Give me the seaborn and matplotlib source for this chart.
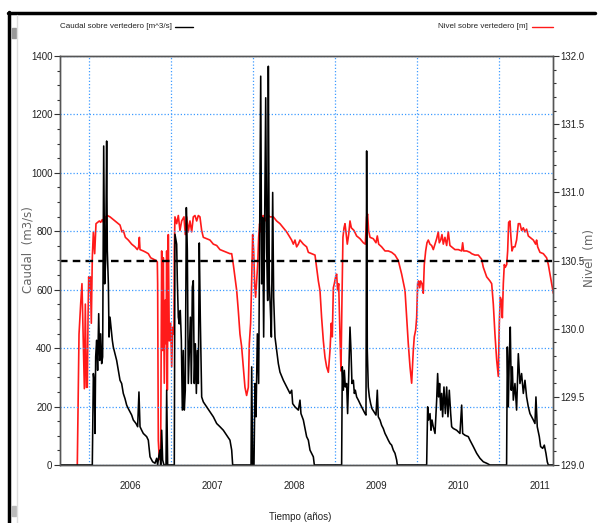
import matplotlib
matplotlib.use('Agg')
import matplotlib.pyplot as plt
import seaborn as sns
from matplotlib.ticker import MultipleLocator, FormatStrFormatter
from matplotlib.lines import Line2D
from matplotlib.patches import Rectangle

# --- datos (tiempo en años decimales) ---
caudal_t = [2005.646, 2006.040, 2006.053, 2006.065, 2006.073, 2006.081, 2006.093, 2006.105, 2006.118, 2006.130,
            2006.142, 2006.154, 2006.166, 2006.179, 2006.191, 2006.203, 2006.215, 2006.223, 2006.236, 2006.244,
            2006.256, 2006.268, 2006.284, 2006.296, 2006.317, 2006.337, 2006.357, 2006.378, 2006.398, 2006.418,
            2006.439, 2006.459, 2006.479, 2006.500, 2006.520, 2006.540, 2006.573, 2006.593, 2006.609, 2006.622,
            2006.642, 2006.662, 2006.703, 2006.723, 2006.744, 2006.776, 2006.805, 2006.825, 2006.837, 2006.853,
            2006.866, 2006.874, 2006.886, 2006.898, 2006.914, 2006.939, 2006.947, 2006.959, 2007.040, 2007.048,
            2007.069, 2007.077, 2007.089, 2007.101, 2007.113, 2007.126, 2007.138, 2007.150, 2007.162, 2007.174,
            2007.187, 2007.199, 2007.211, 2007.223, 2007.236, 2007.248, 2007.260, 2007.272, 2007.284, 2007.297,
            2007.309, 2007.321, 2007.333, 2007.345, 2007.357, 2007.374, 2007.394, 2007.435, 2007.475, 2007.516,
            2007.557, 2007.597, 2007.638, 2007.679, 2007.719, 2007.740, 2007.752, 2007.976, 2007.984, 2007.996,
            2008.012, 2008.024, 2008.037, 2008.053, 2008.069, 2008.077, 2008.094, 2008.106, 2008.118, 2008.130,
            2008.142, 2008.155, 2008.167, 2008.179, 2008.187, 2008.199, 2008.211, 2008.224, 2008.240, 2008.252,
            2008.268, 2008.289, 2008.309, 2008.329, 2008.370, 2008.411, 2008.451, 2008.472, 2008.484, 2008.512,
            2008.553, 2008.573, 2008.585, 2008.614, 2008.634, 2008.654, 2008.675, 2008.695, 2008.715, 2008.736,
            2008.748, 2009.081, 2009.089, 2009.102, 2009.114, 2009.126, 2009.142, 2009.154, 2009.167, 2009.183,
            2009.195, 2009.207, 2009.224, 2009.236, 2009.248, 2009.264, 2009.285, 2009.305, 2009.325, 2009.346,
            2009.366, 2009.378, 2009.386, 2009.394, 2009.406, 2009.419, 2009.435, 2009.451, 2009.476, 2009.500,
            2009.516, 2009.528, 2009.549, 2009.569, 2009.589, 2009.610, 2009.630, 2009.650, 2009.671, 2009.691,
            2009.711, 2009.732, 2009.752, 2009.760, 2010.118, 2010.130, 2010.142, 2010.159, 2010.171, 2010.183,
            2010.199, 2010.220, 2010.240, 2010.252, 2010.264, 2010.276, 2010.289, 2010.301, 2010.313, 2010.329,
            2010.346, 2010.362, 2010.378, 2010.394, 2010.411, 2010.423, 2010.443, 2010.484, 2010.524, 2010.545,
            2010.557, 2010.585, 2010.626, 2010.646, 2010.687, 2010.728, 2010.768, 2010.809, 2010.850, 2010.890,
            2011.093, 2011.102, 2011.114, 2011.126, 2011.138, 2011.150, 2011.163, 2011.175, 2011.195, 2011.215,
            2011.236, 2011.256, 2011.276, 2011.297, 2011.317, 2011.337, 2011.358, 2011.378, 2011.419, 2011.439,
            2011.451, 2011.467, 2011.492, 2011.508, 2011.533, 2011.553, 2011.573, 2011.589, 2011.602, 2011.663]
caudal_q = [0, 0, 313, 279, 108, 370, 427, 324, 518, 358,
            449, 347, 370, 1092, 620, 700, 1109, 734, 620, 438,
            506, 472, 427, 404, 381, 358, 324, 290, 279, 245,
            227, 205, 193, 182, 171, 154, 142, 131, 250, 131,
            119, 108, 97, 85, 28, 11, 6, 23, 0, 34,
            51, 0, 119, 17, 0, 0, 256, 0, 0, 790,
            756, 631, 506, 483, 529, 427, 188, 392, 188, 256,
            881, 734, 279, 392, 506, 279, 609, 631, 279, 415,
            245, 392, 279, 760, 506, 233, 216, 199, 182, 165,
            142, 131, 119, 102, 85, 51, 0, 0, 336, 0,
            0, 279, 165, 449, 279, 620, 1331, 620, 847, 438,
            847, 1257, 734, 563, 1365, 620, 540, 438, 933, 574,
            438, 392, 347, 318, 290, 267, 245, 256, 210, 199,
            188, 222, 176, 154, 125, 97, 85, 51, 40, 28,
            0, 0, 336, 256, 324, 267, 279, 176, 301, 472,
            392, 279, 290, 245, 256, 233, 222, 210, 199, 188,
            176, 171, 1075, 392, 267, 233, 210, 193, 182, 171,
            256, 165, 154, 136, 125, 108, 97, 85, 74, 68,
            51, 40, 17, 0, 0, 199, 154, 176, 119, 154,
            131, 108, 222, 313, 233, 279, 188, 245, 165, 267,
            176, 267, 165, 256, 176, 131, 125, 119, 108, 205,
            108, 102, 97, 85, 63, 40, 23, 11, 6, 0,
            0, 404, 199, 370, 472, 256, 336, 222, 279, 188,
            381, 279, 313, 245, 290, 233, 199, 176, 154, 142,
            233, 131, 97, 63, 57, 68, 40, 11, 0, 0]

nivel_t = [2005.857, 2005.878, 2005.898, 2005.914, 2005.931, 2005.943, 2005.955, 2005.967, 2005.979, 2005.988,
           2005.996, 2006.008, 2006.016, 2006.028, 2006.040, 2006.053, 2006.069, 2006.085, 2006.105, 2006.126,
           2006.142, 2006.162, 2006.183, 2006.203, 2006.223, 2006.256, 2006.296, 2006.337, 2006.378, 2006.402,
           2006.418, 2006.443, 2006.479, 2006.520, 2006.561, 2006.589, 2006.605, 2006.614, 2006.622, 2006.662,
           2006.695, 2006.723, 2006.752, 2006.784, 2006.817, 2006.833, 2006.837, 2006.845, 2006.857, 2006.874,
           2006.886, 2006.898, 2006.906, 2006.918, 2006.931, 2006.939, 2006.947, 2006.955, 2006.967, 2006.979,
           2006.996, 2007.008, 2007.020, 2007.036, 2007.040, 2007.048, 2007.069, 2007.089, 2007.109, 2007.130,
           2007.158, 2007.174, 2007.191, 2007.211, 2007.231, 2007.252, 2007.272, 2007.292, 2007.313, 2007.333,
           2007.353, 2007.374, 2007.394, 2007.435, 2007.475, 2007.516, 2007.557, 2007.597, 2007.638, 2007.679,
           2007.719, 2007.740, 2007.760, 2007.780, 2007.801, 2007.821, 2007.841, 2007.861, 2007.882, 2007.902,
           2007.922, 2007.943, 2007.955, 2007.971, 2007.983, 2007.996, 2008.008, 2008.020, 2008.032, 2008.044,
           2008.057, 2008.069, 2008.081, 2008.093, 2008.105, 2008.126, 2008.146, 2008.166, 2008.186, 2008.207,
           2008.248, 2008.288, 2008.329, 2008.370, 2008.410, 2008.451, 2008.471, 2008.492, 2008.512, 2008.532,
           2008.553, 2008.573, 2008.614, 2008.654, 2008.675, 2008.715, 2008.756, 2008.776, 2008.797, 2008.817,
           2008.837, 2008.858, 2008.878, 2008.898, 2008.919, 2008.939, 2008.955, 2008.967, 2008.980, 2008.992,
           2009.008, 2009.020, 2009.032, 2009.045, 2009.061, 2009.073, 2009.085, 2009.097, 2009.110, 2009.122,
           2009.134, 2009.150, 2009.167, 2009.183, 2009.199, 2009.215, 2009.232, 2009.264, 2009.305, 2009.346,
           2009.370, 2009.386, 2009.398, 2009.410, 2009.427, 2009.467, 2009.500, 2009.516, 2009.533, 2009.569,
           2009.610, 2009.650, 2009.691, 2009.732, 2009.772, 2009.813, 2009.854, 2009.874, 2009.894, 2009.915,
           2009.935, 2009.955, 2009.967, 2009.984, 2009.996, 2010.008, 2010.020, 2010.033, 2010.045, 2010.061,
           2010.077, 2010.089, 2010.106, 2010.122, 2010.138, 2010.158, 2010.179, 2010.199, 2010.220, 2010.240,
           2010.260, 2010.272, 2010.289, 2010.305, 2010.321, 2010.341, 2010.362, 2010.382, 2010.402, 2010.423,
           2010.463, 2010.504, 2010.545, 2010.557, 2010.569, 2010.606, 2010.646, 2010.667, 2010.707, 2010.748,
           2010.788, 2010.809, 2010.850, 2010.890, 2010.911, 2010.931, 2010.951, 2010.972, 2010.992, 2011.004,
           2011.016, 2011.028, 2011.041, 2011.053, 2011.065, 2011.077, 2011.094, 2011.106, 2011.118, 2011.134,
           2011.146, 2011.159, 2011.175, 2011.195, 2011.215, 2011.236, 2011.256, 2011.276, 2011.297, 2011.317,
           2011.337, 2011.358, 2011.378, 2011.419, 2011.447, 2011.459, 2011.472, 2011.500, 2011.541, 2011.581,
           2011.602, 2011.622, 2011.642, 2011.663]
nivel_h = [129.00, 129.96, 130.18, 130.33, 129.89, 129.56, 130.18, 129.57, 129.57, 130.08,
           130.38, 130.28, 130.38, 130.04, 130.52, 130.71, 130.55, 130.77, 130.78, 130.79,
           130.78, 130.80, 130.77, 130.82, 130.83, 130.82, 130.80, 130.78, 130.76, 130.71,
           130.72, 130.67, 130.65, 130.62, 130.60, 130.58, 130.60, 130.67, 130.58, 130.57,
           130.56, 130.55, 130.52, 130.51, 130.50, 130.49, 130.33, 129.18, 129.04, 129.11,
           130.57, 129.84, 130.52, 129.60, 130.21, 129.89, 130.57, 129.55, 130.69, 129.91,
           130.04, 129.72, 130.01, 129.96, 130.57, 130.82, 130.77, 130.83, 130.72, 130.79,
           130.82, 130.69, 130.82, 130.71, 130.79, 130.71, 130.82, 130.83, 130.79, 130.83,
           130.82, 130.72, 130.67, 130.66, 130.65, 130.62, 130.61, 130.58, 130.57, 130.56,
           130.55, 130.55, 130.47, 130.38, 130.28, 130.13, 129.96, 129.87, 129.72, 129.57,
           129.51, 129.57, 129.89, 130.04, 130.33, 130.69, 130.57, 130.33, 130.23, 130.35,
           130.47, 130.67, 130.77, 130.71, 130.82, 130.83, 130.79, 130.82, 130.83, 130.82,
           130.82, 130.79, 130.77, 130.74, 130.71, 130.67, 130.65, 130.62, 130.65, 130.60,
           130.62, 130.65, 130.62, 130.60, 130.56, 130.55, 130.54, 130.45, 130.35, 130.28,
           130.08, 129.91, 129.79, 129.72, 129.68, 129.84, 130.04, 129.94, 130.30, 130.33,
           130.38, 130.40, 130.28, 130.33, 129.94, 129.69, 130.21, 130.67, 130.74, 130.77,
           130.71, 130.62, 130.69, 130.79, 130.74, 130.73, 130.72, 130.68, 130.66, 130.63,
           130.62, 130.82, 130.84, 130.72, 130.67, 130.66, 130.63, 130.68, 130.62, 130.60,
           130.57, 130.57, 130.56, 130.54, 130.50, 130.40, 130.28, 130.08, 129.89, 129.72,
           129.60, 129.84, 129.94, 129.99, 130.08, 130.33, 130.35, 130.30, 130.35, 130.33,
           130.26, 130.47, 130.57, 130.63, 130.65, 130.62, 130.61, 130.58, 130.62, 130.66,
           130.71, 130.63, 130.65, 130.69, 130.62, 130.67, 130.61, 130.71, 130.61, 130.60,
           130.58, 130.58, 130.57, 130.63, 130.57, 130.57, 130.56, 130.55, 130.54, 130.54,
           130.51, 130.45, 130.38, 130.35, 130.33, 130.18, 129.96, 129.77, 129.65, 130.04,
           130.23, 130.21, 130.08, 130.33, 130.47, 130.45, 130.47, 130.57, 130.78, 130.79,
           130.67, 130.57, 130.60, 130.60, 130.65, 130.77, 130.77, 130.72, 130.74, 130.71,
           130.73, 130.68, 130.67, 130.65, 130.62, 130.65, 130.60, 130.56, 130.55, 130.52,
           130.47, 130.40, 130.33, 130.26]

nivel_umbral = 130.5
anios = [2006, 2007, 2008, 2009, 2010, 2011]
anio_etiquetas = ['2006', '2007', '2008', '2009', '2010', '2011']

# --- estilo ---
sns.set_style('white')
plt.rcParams['font.family'] = ['Liberation Sans', 'DejaVu Sans']
W, H = 601, 523

fig = plt.figure(figsize=(W / 100, H / 100), dpi=100)
ax = fig.add_axes([60 / W, 1 - 465 / H, 493 / W, 409 / H])
ax2 = ax.twinx()

# nivel (eje derecho)
sns.lineplot(x=nivel_t, y=nivel_h, ax=ax2, color='#ff1a1a', lw=1.2,
             estimator=None, sort=False, legend=False)
ax2.axhline(nivel_umbral, color='black', lw=1.7, ls=(0, (3.2, 2.2)))

# caudal (eje izquierdo, dibujado encima)
sns.lineplot(x=caudal_t, y=caudal_q, ax=ax, color='black', lw=1.15,
             estimator=None, sort=False, legend=False)
ax.set_zorder(ax2.get_zorder() + 1)
ax.patch.set_visible(False)

# ejes
ax.set_xlim(2005.646, 2011.659)
ax.set_ylim(0, 1400)
ax2.set_ylim(129.0, 132.0)

ax.set_yticks(range(0, 1401, 200))
ax.yaxis.set_minor_locator(MultipleLocator(50))
ax2.set_yticks([129.0, 129.5, 130.0, 130.5, 131.0, 131.5, 132.0])
ax2.yaxis.set_major_formatter(FormatStrFormatter('%.1f'))
ax2.yaxis.set_minor_locator(MultipleLocator(0.1))

ax.set_xticks(anios)
ax.set_xticklabels([])
ax.xaxis.set_minor_locator(MultipleLocator(1 / 12))

for a in (ax, ax2):
    a.tick_params(axis='both', which='major', direction='out', length=4, width=0.8,
                  color='#333333', labelsize=7, labelcolor='#222222', pad=1.5)
    a.tick_params(axis='both', which='minor', direction='out', length=2, width=0.8, color='#333333')
    for s in a.spines.values():
        s.set_color('#555555')
        s.set_linewidth(1.0)
ax.tick_params(axis='x', which='major', length=9)
ax.tick_params(axis='y', which='both', left=True, right=False)
ax2.tick_params(axis='y', which='both', right=True, left=False)

for a, lab in zip(anios, anio_etiquetas):
    ax.text(a + 0.5, -0.052, lab, transform=ax.get_xaxis_transform(),
            ha='center', va='center', fontsize=7, color='#222222')

# rejilla azul punteada
ax.grid(True, which='major', color='#3d9bff', lw=0.9, ls=(0, (1, 1.6)))

# textos
fig.text(28 / W, 1 - 250 / H, 'Caudal  (m3/s)', rotation=90, ha='center', va='center',
         fontsize=8.5, color='#666666', family='DejaVu Sans')
fig.text(589 / W, 1 - 258 / H, 'Nivel  (m)', rotation=90, ha='center', va='center',
         fontsize=8.5, color='#666666', family='DejaVu Sans')
fig.text(300 / W, 1 - 517 / H, 'Tiempo (años)', ha='center', va='center',
         fontsize=7, color='#222222')

# leyendas superiores
fig.text(60 / W, 1 - 27 / H, 'Caudal sobre vertedero [m^3/s]', ha='left', va='center',
         fontsize=5.8, color='#222222')
fig.add_artist(Line2D([175 / W, 193 / W], [1 - 27 / H] * 2, color='black', lw=1.0))
fig.text(528 / W, 1 - 27 / H, 'Nivel sobre vertedero [m]', ha='right', va='center',
         fontsize=5.8, color='#222222')
fig.add_artist(Line2D([532 / W, 553 / W], [1 - 27 / H] * 2, color='#ff1a1a', lw=1.0))

# marco de la ventana
fig.add_artist(Line2D([8 / W, 595 / W], [1 - 12.5 / H] * 2, color='black', lw=2.5))
fig.add_artist(Line2D([8.5 / W, 8.5 / W], [1 - 12 / H, 0], color='black', lw=2.5))
fig.add_artist(Line2D([17 / W, 17 / W], [1 - 15 / H, 0], color='#dddddd', lw=1.0))
fig.add_artist(Rectangle((12 / W, 1 - 38 / H), 4 / W, 10 / H, color='#999999'))
fig.add_artist(Rectangle((12 / W, 1 - 516 / H), 4 / W, 10 / H, color='#bbbbbb'))

fig.savefig('out.png', dpi=100)
